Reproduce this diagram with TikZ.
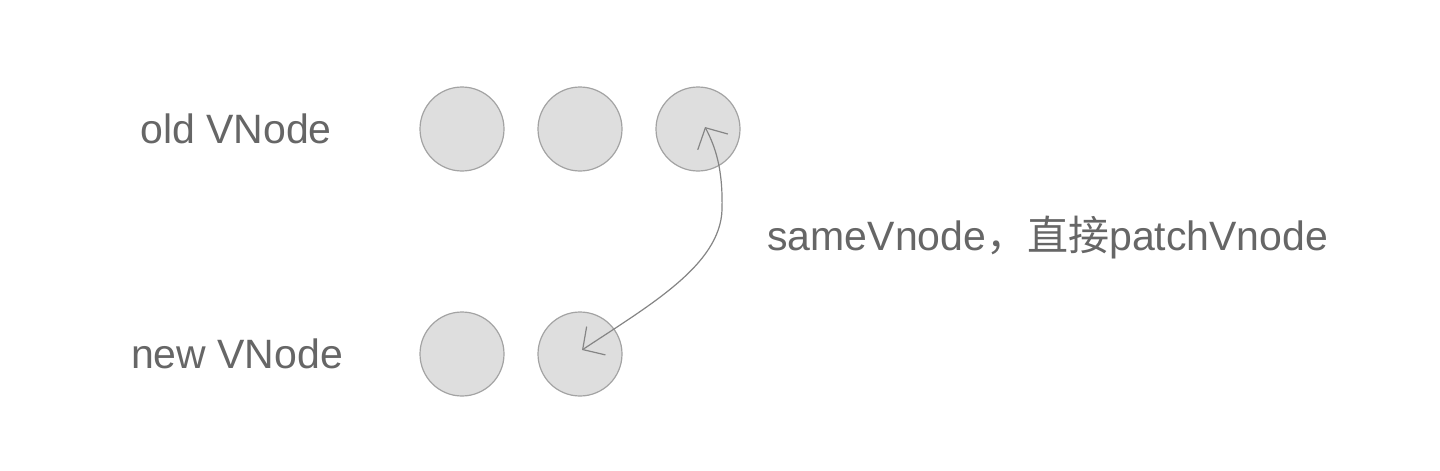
\documentclass[tikz,border=0pt]{standalone}
\usepackage{fontspec}
\setmainfont{Liberation Sans}
\newfontfamily\cjk{Noto Sans CJK SC}
\usetikzlibrary{arrows.meta}
\definecolor{txt}{HTML}{666666}
\definecolor{cfill}{HTML}{DEDEDE}
\definecolor{cline}{HTML}{A3A3A3}
\definecolor{arr}{HTML}{858585}
\begin{document}
\begin{tikzpicture}[x=0.5pt,y=-0.5pt,
  vnode/.style={circle,draw=cline,fill=cfill,line width=0.6pt,minimum size=42pt,inner sep=0pt},
  lbl/.style={text=txt,font=\fontsize{20.5}{24}\selectfont,inner sep=0pt},
  link/.style={draw=arr,line width=0.6pt,{Straight Barb[length=8pt,width=17pt]}-{Straight Barb[length=8pt,width=17pt]}}]
\useasboundingbox[fill=white] (0,0) rectangle (1440,471);
\node[lbl] (oldl) at (236,129) {old VNode};
\node[lbl] (newl) at (237,354) {new VNode};
\node[vnode] (o1) at (462,129) {};
\node[vnode] (o2) at (580,129) {};
\node[vnode] (o3) at (698,129) {};
\node[vnode] (n1) at (462,354) {};
\node[vnode] (n2) at (580,354) {};
\coordinate (tipB) at (582,350);
\coordinate (tipT) at (705,127);
\draw[link] (tipB) .. controls (650,305) and (720,265) .. (722,210) .. controls (723,170) and (716,148) .. (tipT);
\node[lbl,anchor=west] (lab) at (767,238) {sameVnode{\cjk ，直接}patchVnode};
\end{tikzpicture}
\end{document}
